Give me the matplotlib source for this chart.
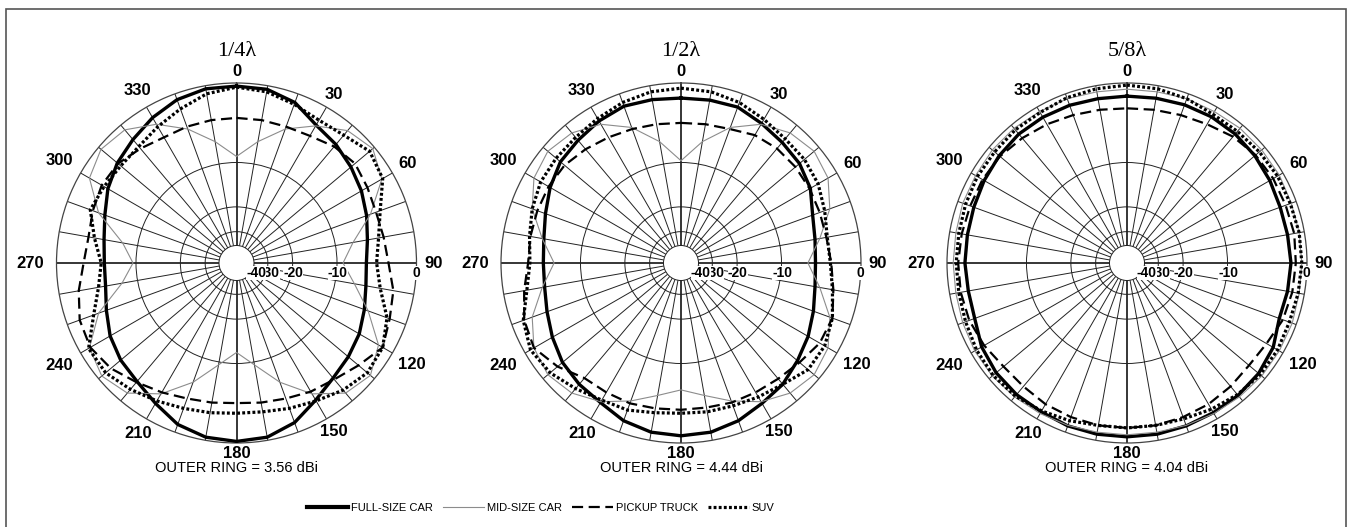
import numpy as np
import matplotlib.pyplot as plt
from matplotlib.lines import Line2D
from matplotlib.patches import Rectangle
from matplotlib.transforms import ScaledTranslation

# azimuth (deg) of every sample, relative gain in dB (0 dB = outer ring)
angles = np.arange(0, 360, 10)

full_quarter = [-0.3, -0.35, -0.9, -2.1, -2.6, -3.2, -3.8, -4.5, -5.2, -5.6, -5.4, -4.8,
                -4.1, -3.6, -3.1, -2.2, -1.0, -0.3, -0.15, -0.3, -0.8, -1.8, -2.6, -3.0,
                -3.6, -4.5, -5.2, -5.3, -5.0, -4.3, -3.3, -2.5, -1.9, -1.2, -0.6, -0.3]
mid_quarter = [-9.0, -6.5, -4.0, -2.2, -0.7, -0.2, -1.2, -4.0, -7.2, -9.0, -7.0, -4.3,
               -1.6, -0.5, -1.0, -3.0, -6.0, -9.5, -12.0, -9.5, -6.0, -3.0, -1.0, -0.4,
               -1.0, -3.5, -7.5, -9.5, -7.6, -3.5, -1.0, -0.3, -0.6, -2.0, -4.0, -6.5]
pickup_quarter = [-3.7, -3.7, -3.7, -3.5, -2.9, -2.6, -3.0, -3.3, -3.2, -2.9, -2.1, -1.7,
                  -1.1, -2.1, -2.9, -3.3, -3.8, -4.1, -4.3, -4.1, -3.8, -3.2, -2.5, -1.6,
                  -1.1, -1.3, -2.0, -2.8, -3.1, -2.8, -2.5, -2.6, -3.2, -3.7, -3.7, -3.7]
suv_quarter = [-0.4, -0.6, -1.1, -1.5, -1.3, -0.6, -1.1, -2.8, -3.8, -4.3, -3.6, -2.0,
               -1.1, -0.9, -1.4, -2.1, -2.6, -3.0, -3.1, -2.9, -2.6, -2.1, -1.5, -0.9,
               -0.9, -2.9, -4.3, -4.9, -3.8, -2.5, -2.8, -3.0, -2.9, -2.3, -1.6, -0.8]

full_half = [-1.5, -1.45, -1.4, -1.9, -2.3, -2.6, -3.2, -4.3, -4.8, -5.0, -4.8, -4.2,
             -3.5, -2.9, -2.2, -1.8, -1.2, -0.8, -0.7, -0.8, -1.2, -1.9, -2.2, -2.6,
             -3.3, -4.0, -4.5, -4.6, -4.4, -3.8, -3.0, -2.3, -2.0, -1.6, -1.3, -1.4]
mid_half = [-9.7, -6.5, -3.8, -2.0, -1.0, -0.6, -1.0, -2.2, -4.2, -6.0, -4.2, -2.2,
            -1.0, -0.6, -1.0, -2.0, -3.5, -5.0, -6.0, -5.0, -3.5, -2.0, -1.0, -0.6,
            -1.0, -2.2, -4.2, -6.0, -4.2, -2.2, -1.0, -0.6, -1.0, -2.0, -3.8, -6.5]
pickup_half = [-4.3, -4.2, -4.0, -3.4, -3.2, -3.2, -3.3, -3.4, -3.4, -3.1, -2.6, -1.9,
               -2.0, -2.6, -3.0, -3.2, -3.3, -3.5, -3.5, -3.4, -3.2, -3.2, -3.1, -1.9,
               -1.0, -1.3, -2.1, -2.8, -2.8, -2.8, -2.8, -2.9, -3.3, -3.7, -4.0, -4.2]
suv_half = [-0.5, -0.6, -0.9, -1.4, -1.8, -1.9, -2.2, -2.8, -3.3, -3.2, -2.7, -1.9,
            -1.4, -1.4, -2.2, -2.6, -2.9, -3.0, -3.1, -2.9, -2.4, -2.2, -1.6, -0.9,
            -0.6, -1.2, -2.4, -3.0, -2.7, -2.2, -1.8, -1.7, -1.6, -1.3, -0.9, -0.6]

full_five = [-1.3, -1.25, -1.15, -1.1, -1.15, -1.3, -1.5, -1.7, -1.7, -1.6, -1.7, -1.8,
             -1.1, -0.8, -0.7, -0.7, -0.65, -0.6, -0.6, -0.6, -0.65, -0.8, -0.8, -0.9,
             -1.2, -1.8, -1.9, -1.8, -1.8, -1.7, -1.5, -1.3, -1.15, -1.15, -1.2, -1.3]
mid_five = [-0.6, -0.6, -0.5, -0.5, -0.4, -0.4, -0.4, -0.5, -0.5, -0.5, -0.5, -0.4,
            -0.4, -0.4, -0.5, -0.6, -0.7, -0.8, -0.8, -0.8, -0.7, -0.6, -0.5, -0.4,
            -0.4, -0.5, -0.6, -0.6, -0.6, -0.5, -0.5, -0.4, -0.4, -0.5, -0.5, -0.6]
pickup_five = [-2.6, -2.5, -2.3, -2.0, -1.5, -1.2, -1.1, -1.1, -1.0, -1.1, -1.2, -1.4,
               -1.9, -2.1, -1.9, -1.7, -1.6, -1.5, -1.5, -1.5, -1.6, -1.7, -1.9, -1.9,
               -1.5, -1.2, -1.1, -1.1, -1.2, -1.3, -1.3, -1.4, -1.7, -2.0, -2.3, -2.5]
suv_five = [-0.2, -0.3, -0.5, -0.8, -0.8, -0.7, -0.6, -0.6, -0.5, -0.5, -0.6, -0.7,
            -0.6, -0.6, -0.8, -1.1, -1.4, -1.5, -1.5, -1.5, -1.2, -0.9, -0.6, -0.5,
            -0.6, -0.8, -0.9, -0.9, -0.9, -0.8, -0.7, -0.7, -0.6, -0.6, -0.4, -0.3]

titles = ["1/4\u03bb", "1/2\u03bb", "5/8\u03bb"]
outer_ring_dbi = [3.56, 4.44, 4.04]
series_names = ["FULL-SIZE CAR", "MID-SIZE CAR", "PICKUP TRUCK", "SUV"]
ring_levels = [-30, -40, -20, -10, 0]
angle_labels = np.arange(0, 360, 30)

patterns = [
    [full_quarter, mid_quarter, pickup_quarter, suv_quarter],
    [full_half, mid_half, pickup_half, suv_half],
    [full_five, mid_five, pickup_five, suv_five],
]

# line style per vehicle: colour, width, dash pattern
styles = [
    dict(color="black", lw=2.4, ls="-"),
    dict(color="#8c8c8c", lw=0.8, ls="-"),
    dict(color="black", lw=1.6, ls=(0, (5, 2.5))),
    dict(color="black", lw=2.3, ls=(0, (0.9, 0.7))),
]

# distance (px) of each compass label centre from the plot centre
label_radius = {0: 191, 30: 195, 60: 198, 90: 197, 120: 203, 150: 195, 180: 190,
                210: 197, 240: 205, 270: 206, 300: 205, 330: 199}
# small sideways nudge (px) of the ring values so they sit like the printed ones
ring_nudge = {-40: 2.5, -30: 2.0, -20: 0.5, -10: 0.5, 0: -0.5}


# ARRL style log-periodic radial scale: each 2 dB shrinks radius by 0.89
def db_to_r(db):
    return np.power(0.89, -np.asarray(db, dtype=float) / 2.0)


def r_to_db(r):
    r = np.clip(np.asarray(r, dtype=float), 1e-12, None)
    return -2.0 * np.log(r) / np.log(0.89)


W, H = 1348, 527
fig = plt.figure(figsize=(W / 100, H / 100), dpi=100)

centers_x = [236.5, 681, 1127]
cy = 263
R = 180

sans = ["Liberation Sans", "DejaVu Sans"]
label_font = dict(family=sans, weight="bold", size=12)
ring_font = dict(family=sans, weight="bold", size=10)

for i, cx in enumerate(centers_x):
    ax = fig.add_axes([(cx - R) / W, (H - cy - R) / H, 2 * R / W, 2 * R / H],
                      projection="polar")
    ax.set_theta_zero_location("N")
    ax.set_theta_direction(-1)
    ax.set_yscale("function", functions=(db_to_r, r_to_db))
    ax.set_ylim(-200, 0)

    ax.set_xticks([])
    ax.set_yticks([-40, -30, -20, -10])
    ax.set_yticklabels([])
    ax.xaxis.grid(False)
    ax.yaxis.grid(True, color="#222222", lw=0.7)
    ax.spines["polar"].set_color("#444444")
    ax.spines["polar"].set_linewidth(0.9)

    # spokes every 10 degrees from the -40 dB ring out to the rim
    spoke_deg = np.arange(0, 360, 10)
    main = np.isin(spoke_deg, [0, 90, 180, 270])
    ax.vlines(np.radians(spoke_deg[~main]), -40, 0, colors="#222222", lw=0.7, zorder=1)
    ax.vlines(np.radians(spoke_deg[main]), -40, 0, colors="black", lw=1.1, zorder=1)

    theta = np.radians(np.append(angles, angles[0]))
    for k in [1, 2, 3, 0]:
        vals = patterns[i][k]
        ax.plot(theta, np.append(vals, vals[0]), zorder=3 + k, **styles[k])

    # compass labels outside the rim
    for a in angle_labels:
        ax.text(np.radians(a), r_to_db(label_radius[a] / R), str(a),
                ha="center", va="center", **label_font)

    # ring values just under the 90 degree line
    for z, lvl in enumerate(ring_levels):
        txt = "0" if lvl == 0 else f"-{abs(lvl)}"
        shift = ax.transData + ScaledTranslation(ring_nudge[lvl] / 100, -10 / 100,
                                                 fig.dpi_scale_trans)
        ax.text(np.radians(90), lvl, txt, transform=shift, ha="center", va="center",
                zorder=10 + z,
                bbox=dict(facecolor="white", edgecolor="none", pad=0.0),
                **ring_font)

    ax.text(0.5, 1.087, titles[i], transform=ax.transAxes, ha="center", va="center",
            family=["Liberation Serif", "DejaVu Serif"], size=16)
    ax.text(0.5, -0.07, f"OUTER RING = {outer_ring_dbi[i]:.2f} dBi",
            transform=ax.transAxes, ha="center", va="center", family=sans, size=10.5)

handles = [Line2D([], [], **styles[k]) for k in range(4)]
handles[0].set_linewidth(3.0)
fig.legend(handles, series_names, loc="center", bbox_to_anchor=(541 / W, 1 - 508 / H),
           ncol=4, frameon=False, handlelength=3.7, handletextpad=0.25,
           columnspacing=0.9, borderpad=0.2, prop=dict(family=sans, size=8))

fig.add_artist(Rectangle((6 / W, -0.1), (1346 - 6) / W, 0.1 + (H - 9) / H,
                         transform=fig.transFigure, fill=False, edgecolor="#555555",
                         lw=1.2, clip_on=False))

fig.savefig("out.png", dpi=100, facecolor="white")
